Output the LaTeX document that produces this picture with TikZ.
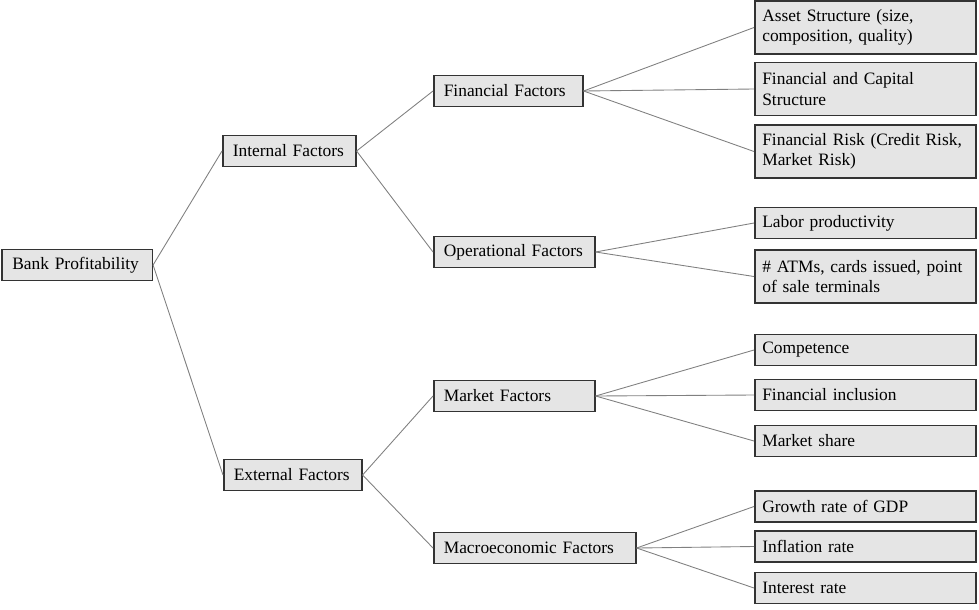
\documentclass[tikz,border=0pt]{standalone}
\usepackage{fontspec}
\setmainfont{Liberation Serif}
\tikzstyle{block} = [draw=black!80, line width=0.9pt, fill=gray!20, rectangle, anchor=west, align=left, inner xsep=0.2cm, minimum height=0.62cm, font=\fontsize{9.9}{11.5}\selectfont]
\tikzstyle{leaf} = [block, inner xsep=0.15cm, text width=4.12cm]
\tikzstyle{link} = [draw=gray, line width=0.5pt]

\begin{document}
\begin{tikzpicture}
	\useasboundingbox (0,0) rectangle (19.58,-12.18);
	% put the nodes (root, branches, leaves) where we want them
	\node [block,text width=2.6cm] (bank) at (0.03,-5.30) {Bank Profitability};
	\node [block,text width=2.26cm] (internal) at (4.44,-3.02) {Internal Factors};
	\node [block,text width=2.36cm] (external) at (4.46,-9.50) {External Factors};
	\node [block,text width=2.58cm] (financial) at (8.66,-1.82) {Financial Factors};
	\node [block,text width=2.82cm] (operational) at (8.66,-5.04) {Operational Factors};
	\node [block,text width=2.82cm] (market) at (8.66,-7.92) {Market Factors};
	\node [block,text width=3.64cm] (macro) at (8.66,-10.96) {Macroeconomic Factors};

	% leaves
	\node [leaf,minimum height=1.06cm] (asset) at (15.08,-0.55) {Asset Structure (size,\\composition, quality)};
	\node [leaf,minimum height=1.06cm] (capital) at (15.08,-1.78) {Financial and Capital\\Structure};
	\node [leaf,minimum height=1.06cm] (risk) at (15.08,-3.03) {Financial Risk (Credit Risk,\\Market Risk)};
	\node [leaf] (labor) at (15.08,-4.46) {Labor productivity};
	\node [leaf,minimum height=1.06cm] (atm) at (15.08,-5.53) {\# ATMs, cards issued, point\\of sale terminals};
	\node [leaf] (competence) at (15.08,-7.00) {Competence};
	\node [leaf] (inclusion) at (15.08,-7.90) {Financial inclusion};
	\node [leaf] (share) at (15.08,-8.82) {Market share};
	\node [leaf] (gdp) at (15.08,-10.13) {Growth rate of GDP};
	\node [leaf] (inflation) at (15.08,-10.93) {Inflation rate};
	\node [leaf] (interest) at (15.08,-11.76) {Interest rate};

	% draw the branches
	\draw [link] (bank.east) -- (internal.west);
	\draw [link] (bank.east) -- (external.west);
	\draw [link] (internal.east) -- (financial.west);
	\draw [link] (internal.east) -- (operational.west);
	\draw [link] (external.east) -- (market.west);
	\draw [link] (external.east) -- (macro.west);

	% draw the leaves
	\draw [link] (financial.east) -- (asset.west);
	\draw [link] (financial.east) -- (capital.west);
	\draw [link] (financial.east) -- (risk.west);
	\draw [link] (operational.east) -- (labor.west);
	\draw [link] (operational.east) -- (atm.west);
	\draw [link] (market.east) -- (competence.west);
	\draw [link] (market.east) -- (inclusion.west);
	\draw [link] (market.east) -- (share.west);
	\draw [link] (macro.east) -- (gdp.west);
	\draw [link] (macro.east) -- (inflation.west);
	\draw [link] (macro.east) -- (interest.west);

\end{tikzpicture}
\end{document}
